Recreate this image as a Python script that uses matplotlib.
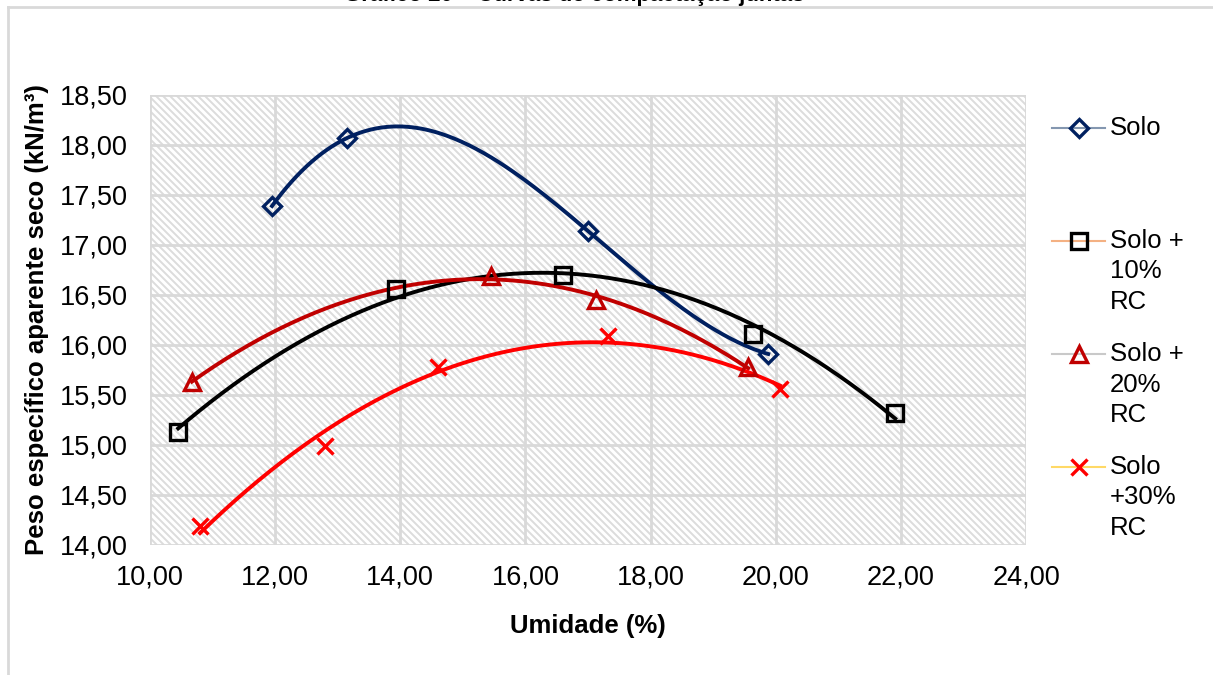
import numpy as np
import matplotlib.pyplot as plt
from matplotlib.lines import Line2D
from matplotlib.collections import LineCollection

plt.rcParams['font.family'] = ['Liberation Sans', 'DejaVu Sans']

# umidade (%) x peso especifico aparente seco (kN/m3)
solo_x = [11.95, 13.15, 17.00, 19.88]
solo_y = [17.39, 18.07, 17.14, 15.91]
rc10_x = [10.45, 13.93, 16.60, 19.64, 21.91]
rc10_y = [15.13, 16.56, 16.70, 16.11, 15.32]
rc20_x = [10.67, 15.45, 17.13, 19.56]
rc20_y = [15.63, 16.69, 16.45, 15.78]
rc30_x = [10.80, 12.80, 14.60, 17.32, 20.07]
rc30_y = [14.19, 14.99, 15.78, 16.09, 15.56]

labels = [['Solo'], ['Solo +', '10%', 'RC'], ['Solo +', '20%', 'RC'], ['Solo', '+30%', 'RC']]

series = [
    # x, y, grau da linha de tendencia, cor, marcador, cor da linha na legenda
    (solo_x, solo_y, 3, '#002060', 'D', '#8497b0'),
    (rc10_x, rc10_y, 2, '#000000', 's', '#f4b183'),
    (rc20_x, rc20_y, 2, '#c00000', '^', '#c9c9c9'),
    (rc30_x, rc30_y, 2, '#ff0000', 'x', '#ffd966'),
]

W, H = 1213, 675
fig = plt.figure(figsize=(W / 100, H / 100), dpi=100)
ax = fig.add_axes([150 / W, 1 - 545 / H, 876 / W, 450 / H])

# fundo hachurado (listras diagonais) da area de plotagem
aw, ah = 876, 450
step = 7
segs = [[((x0) / aw, 1), ((x0 + ah) / aw, 0)] for x0 in np.arange(-ah, aw + step, step)]
hatch = LineCollection(segs, colors='#dcdcdc', linewidths=1.4, transform=ax.transAxes,
                       zorder=0)
hatch.set_clip_path(ax.patch)
ax.add_collection(hatch)

ms_map = {'x': 12, 'D': 9, 's': 12, '^': 12}
for x, y, deg, color, mk, lcolor in series:
    coef = np.polyfit(x, y, deg)
    xs = np.linspace(min(x), max(x), 200)
    ax.plot(xs, np.polyval(coef, xs), color=color, lw=2.8, zorder=3)
    ax.plot(x, y, linestyle='none', marker=mk, ms=ms_map[mk], mfc='none', mec=color,
            mew=2.4, zorder=4)

ax.set_xlim(10, 24)
ax.set_ylim(14, 18.5)
ax.set_xticks(np.arange(10, 24.1, 2))
ax.set_yticks(np.arange(14, 18.51, 0.5))
fmt = lambda v: f'{v:.2f}'.replace('.', ',')
ax.set_xticklabels([fmt(v) for v in ax.get_xticks()])
ax.set_yticklabels([fmt(v) for v in ax.get_yticks()])
ax.tick_params(labelsize=19.5, length=0)
ax.tick_params(axis='x', pad=14)
ax.tick_params(axis='y', pad=16)
ax.grid(True, color='#d9d9d9', lw=2, zorder=1)
ax.set_axisbelow(True)
for s in ax.spines.values():
    s.set_visible(False)

ax.set_xlabel('Umidade (%)', fontsize=18.5, fontweight='bold', labelpad=17)
ax.set_ylabel('Peso específico aparente seco (kN/m³)', fontsize=18.5,
              fontweight='bold', labelpad=8)

# legenda com o marcador alinhado a primeira linha do texto
for i, ((x, y, deg, color, mk, lcolor), lab) in enumerate(zip(series, labels)):
    yc = 1 - (128 + 113 * i) / H
    fig.add_artist(Line2D([1052 / W, 1105 / W], [yc, yc], color=lcolor, lw=1.5,
                          transform=fig.transFigure))
    fig.add_artist(Line2D([1079 / W], [yc], marker=mk, ms=ms_map[mk], mfc='none',
                          mec=color, mew=2.4, transform=fig.transFigure))
    for j, line in enumerate(lab):
        fig.text(1110 / W, yc - j * 30.5 / H, line, fontsize=18.5, va='center',
                 ha='left')

# moldura do grafico e titulo
fig.add_artist(Line2D([8 / W, 8 / W], [0, 1 - 6.5 / H], color='#d9d9d9', lw=2,
                      transform=fig.transFigure))
fig.add_artist(Line2D([8 / W, 1], [1 - 6.5 / H, 1 - 6.5 / H], color='#d9d9d9', lw=2,
                      transform=fig.transFigure))
fig.text(574 / W, 1 - 1.5 / H, 'Gráfico 20 – Curvas de compactação juntas', ha='center',
         va='baseline', fontsize=16, fontweight='bold')

fig.savefig('out.png', dpi=100)
